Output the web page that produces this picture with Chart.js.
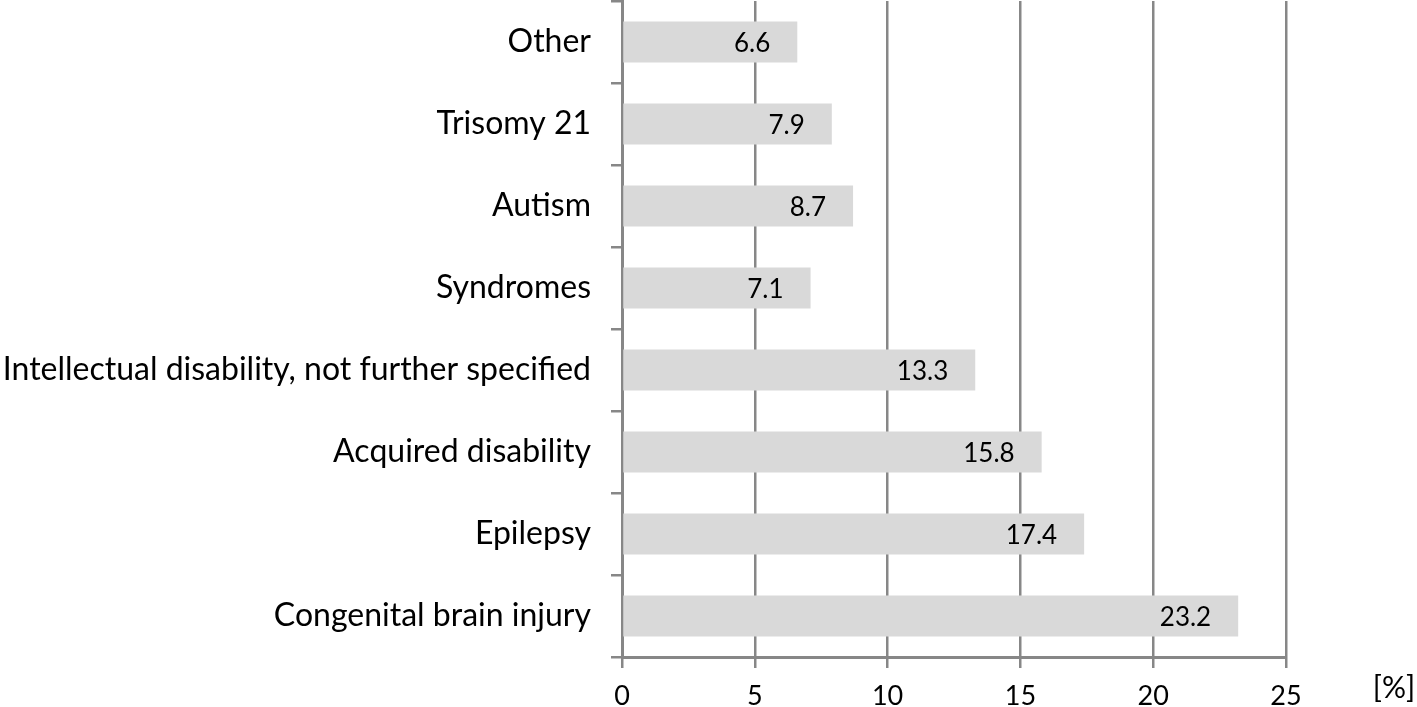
<!DOCTYPE html>
<html>
<head>
<meta charset="utf-8">
<script src="https://cdn.jsdelivr.net/npm/chart.js@4.4.0/dist/chart.umd.min.js"></script>
<style>
  html, body { margin: 0; padding: 0; background: #fff; }
  #wrap { width: 1417px; height: 707px; position: relative; }
</style>
</head>
<body>
<div id="wrap"><canvas id="chart"></canvas></div>
<script>
// categories from top to bottom
const categories = [
    'Other',
    'Trisomy 21',
    'Autism',
    'Syndromes',
    'Intellectual disability, not further specified',
    'Acquired disability',
    'Epilepsy',
    'Congenital brain injury'
];
const percentages = [6.6, 7.9, 8.7, 7.1, 13.3, 15.8, 17.4, 23.2];
const xTicks = [0, 5, 10, 15, 20, 25];
const unitLabel = '[%]';

const FONT = 'Lato, "Open Sans", sans-serif';
const GRID = '#878787';

// value labels drawn inside the bar, right aligned near its end
const valueLabels = {
    id: 'valueLabels',
    afterDatasetsDraw(chart) {
        const ctx = chart.ctx;
        const meta = chart.getDatasetMeta(0);
        ctx.save();
        ctx.font = '26px ' + FONT;
        ctx.fillStyle = '#000';
        ctx.textAlign = 'right';
        ctx.textBaseline = 'middle';
        meta.data.forEach((bar, i) => {
            ctx.fillText(percentages[i].toFixed(1), bar.x - 27, bar.y + 2);
        });
        ctx.restore();
    }
};

// the "[%]" unit text at the right end of the x axis
const unitText = {
    id: 'unitText',
    afterDraw(chart) {
        const ctx = chart.ctx;
        ctx.save();
        ctx.font = '30px ' + FONT;
        ctx.fillStyle = '#000';
        ctx.textAlign = 'center';
        ctx.textBaseline = 'middle';
        ctx.fillText(unitLabel, 1394, 688);
        ctx.restore();
    }
};

const ctx = document.getElementById('chart').getContext('2d');
new Chart(ctx, {
    type: 'bar',
    data: {
        labels: categories,
        datasets: [{
            data: percentages,
            backgroundColor: '#d9d9d9',
            borderWidth: 0,
            barPercentage: 0.5,
            categoryPercentage: 1.0
        }]
    },
    options: {
        indexAxis: 'y',
        responsive: true,
        maintainAspectRatio: false,
        animation: false,
        layout: { padding: { top: 1, right: 131, bottom: 0, left: 0 } },
        plugins: {
            legend: { display: false },
            tooltip: { enabled: false }
        },
        scales: {
            x: {
                min: 0,
                max: 25,
                afterBuildTicks: (axis) => { axis.ticks = xTicks.map(v => ({ value: v })); },
                afterFit: (axis) => { axis.height = 50; axis.paddingLeft = 0; axis.paddingRight = 0; },
                grid: { color: GRID, lineWidth: 2.5, tickLength: 11 },
                border: { color: GRID, width: 3 },
                ticks: { color: '#000', font: { family: FONT, size: 27 }, padding: 12 }
            },
            y: {
                afterFit: (axis) => { axis.width = 622; axis.paddingTop = 0; axis.paddingBottom = 0; },
                grid: { color: GRID, lineWidth: 2.5, drawOnChartArea: false, tickLength: 11, offset: true },
                border: { color: GRID, width: 3 },
                ticks: { color: '#000', font: { family: FONT, size: 32 }, padding: 20 }
            }
        }
    },
    plugins: [valueLabels, unitText]
});
</script>
</body>
</html>
